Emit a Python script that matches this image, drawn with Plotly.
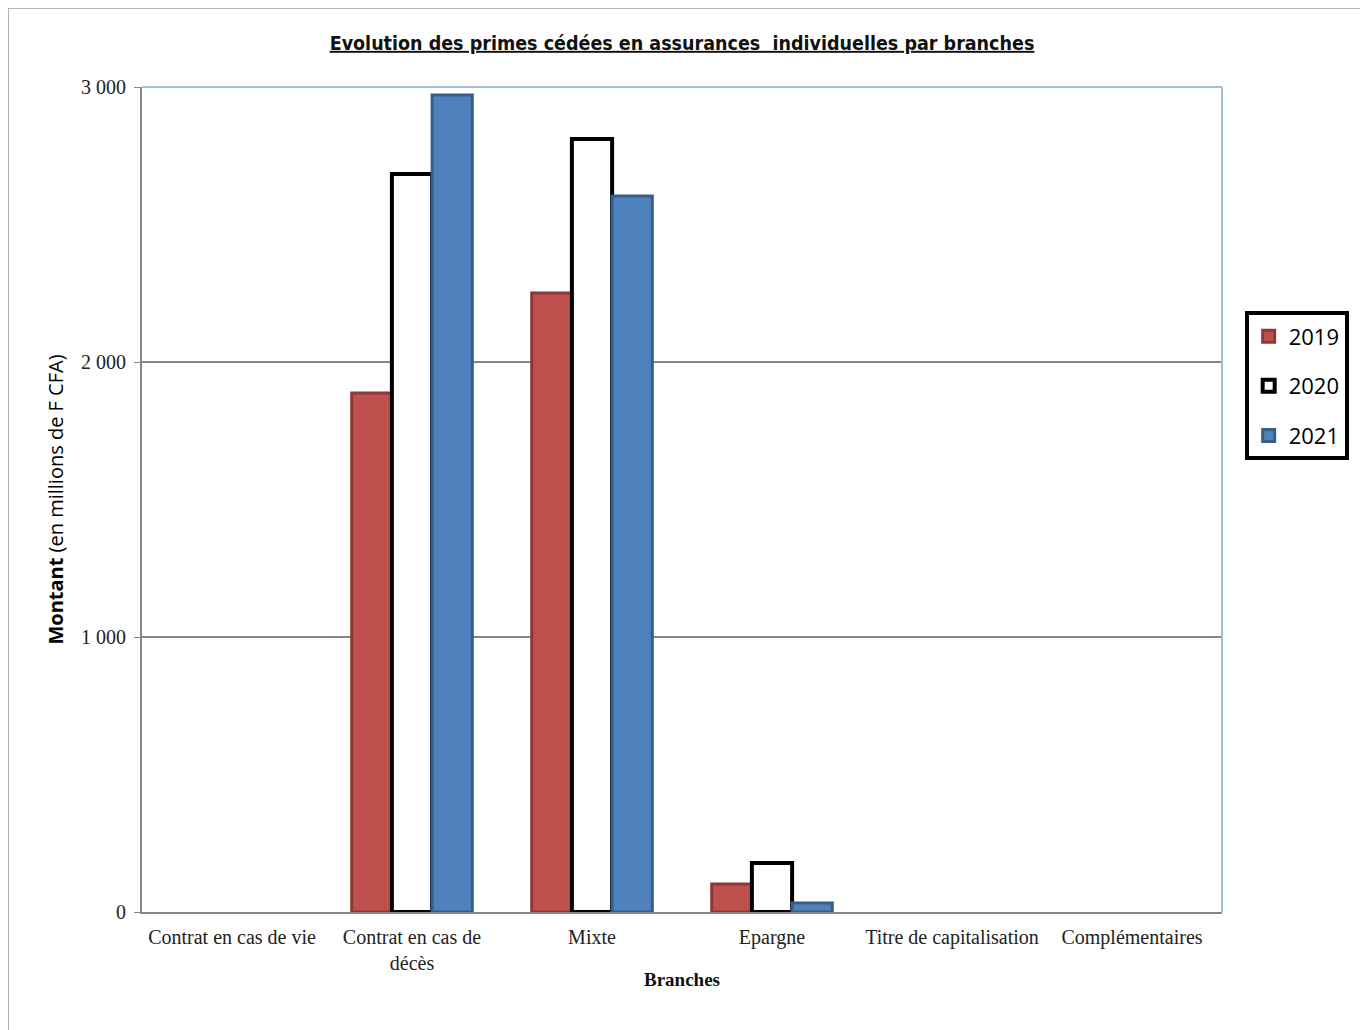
import plotly.graph_objects as go

# categories and values (millions F CFA); None = no bar drawn
branches = ["Contrat en cas de vie", "Contrat en cas de<br>décès", "Mixte", "Epargne",
            "Titre de capitalisation", "Complémentaires"]
years = ["2019", "2020", "2021"]
primes_2019 = [None, 1887, 2251, 102, None, None]
primes_2020 = [None, 2684, 2811, 178, None, None]
primes_2021 = [None, 2971, 2604, 33, None, None]
y_ticks = [0, 1000, 2000, 3000]
y_tick_labels = ["0", "1 000", "2 000", "3 000"]

fills = ["#C0504D", "#FFFFFF", "#4F81BD"]
edges = ["#8C3836", "#000000", "#385D8A"]
edge_w = [3, 4, 3]

fig = go.Figure()
for i, (yr, vals) in enumerate(zip(years, [primes_2019, primes_2020, primes_2021])):
    fig.add_trace(go.Bar(x=branches, y=vals, name=yr, legendgroup=yr,
                         marker=dict(color=fills[i], line=dict(color=edges[i], width=edge_w[i]))))

fig.update_layout(
    width=1368, height=1030,
    paper_bgcolor="white", plot_bgcolor="white",
    margin=dict(l=134, r=154, t=79, b=126),
    barmode="group", bargap=0.33, bargroupgap=0,
    title=dict(text="<b><u>Evolution des primes cédées en assurances  individuelles par branches</u></b>",
               x=0.5, xref="paper", xanchor="center", y=0.966, yanchor="middle",
               font=dict(family="DejaVu Sans Condensed, DejaVu Sans", size=19.5, color="#111")),
    legend=dict(x=1.021, xanchor="left", y=0.728, yanchor="top",
                bordercolor="black", borderwidth=4, bgcolor="white",
                font=dict(family="Open Sans", size=22, color="black"),
                tracegroupgap=18, itemwidth=30),
    font=dict(family="Liberation Serif", color="#222"),
)

fig.update_xaxes(showline=True, linecolor="#868686", linewidth=2, showgrid=False,
                 ticks="", ticklabelstandoff=6,
                 tickfont=dict(family="Liberation Serif", size=20, color="#222"),
                 title=dict(text="<b>Branches</b>", standoff=0,
                            font=dict(family="Liberation Serif", size=19, color="#111")))
fig.update_yaxes(range=[0, 3000], tickvals=y_ticks, ticktext=y_tick_labels,
                 showline=True, linecolor="#868686", linewidth=2,
                 showgrid=True, gridcolor="#868686", gridwidth=1.5, zeroline=False,
                 ticks="outside", ticklen=6, tickcolor="#868686", ticklabelstandoff=4,
                 tickfont=dict(family="Liberation Serif", size=20, color="#222"),
                 title=dict(text="<b>Montant</b> (en millions de F CFA)", standoff=12,
                            font=dict(family="Open Sans", size=20, color="black")))

# light blue frame on top and right of plot area
fig.add_shape(type="line", xref="paper", yref="paper", x0=0, x1=1, y0=1, y1=1,
              line=dict(color="#A4B9DE", width=2), layer="above")
fig.add_shape(type="line", xref="paper", yref="paper", x0=1, x1=1, y0=0, y1=1,
              line=dict(color="#A4B9DE", width=2), layer="above")
# outer chart border
fig.add_shape(type="rect", xref="paper", yref="paper", x0=-0.124, x1=1.133, y0=-0.16, y1=1.0958,
              line=dict(color="#A0A0A0", width=1.5), layer="below")

fig.write_html("out.html")
